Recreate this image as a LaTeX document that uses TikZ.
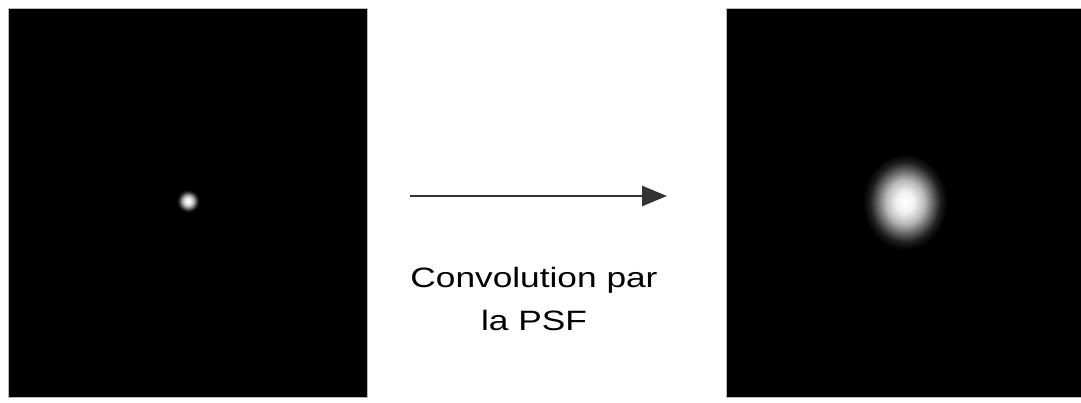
\documentclass[tikz,border=0pt]{standalone}
\usepackage{fontspec}
\setmainfont{Liberation Sans}
\usetikzlibrary{arrows.meta, positioning}

\pgfdeclareradialshading{psfBlur}{\pgfpoint{0bp}{0bp}}{color(0bp)=(white); color(5bp)=(white!95!black); color(11bp)=(white!72!black); color(16bp)=(white!38!black); color(20bp)=(white!12!black); color(24bp)=(black); color(50bp)=(black)}

\tikzstyle{imgBox} = [rectangle, fill=black, draw=gray!55, line width=0.8pt, inner sep=0pt]
\tikzstyle{spot} = [shading=psfBlur]
\tikzstyle{arrow} = [line width=2.6pt, draw=black!80, -{Triangle[length=25pt, width=20pt]}]
\tikzstyle{caption} = [align=center, inner sep=0pt, font=\fontsize{28}{43}\selectfont]

\newcommand{\wideText}[1]{\scalebox{1.26}[1]{#1}}

\begin{document}
\begin{tikzpicture}[x=1pt, y=-1pt]
    \useasboundingbox (0,0) rectangle (1081,403);

    \node (objBox) [imgBox, minimum width=359pt, minimum height=389pt] at (187.5,202.5) {};
    \node (imgBox) [imgBox, minimum width=357pt, minimum height=389pt] at (904.5,202.5) {};

    \fill[spot] (188,201) ellipse (12 and 12);
    \fill[spot] (905,202) ellipse (44 and 50);

    \coordinate (arrStart) at (410,196);
    \coordinate (arrEnd) at (667,196);
    \draw[arrow] (arrStart) -- (arrEnd);

    \node (convText) [caption] at (534,299) {\wideText{Convolution par}\\\wideText{la PSF}};

\end{tikzpicture}
\end{document}
